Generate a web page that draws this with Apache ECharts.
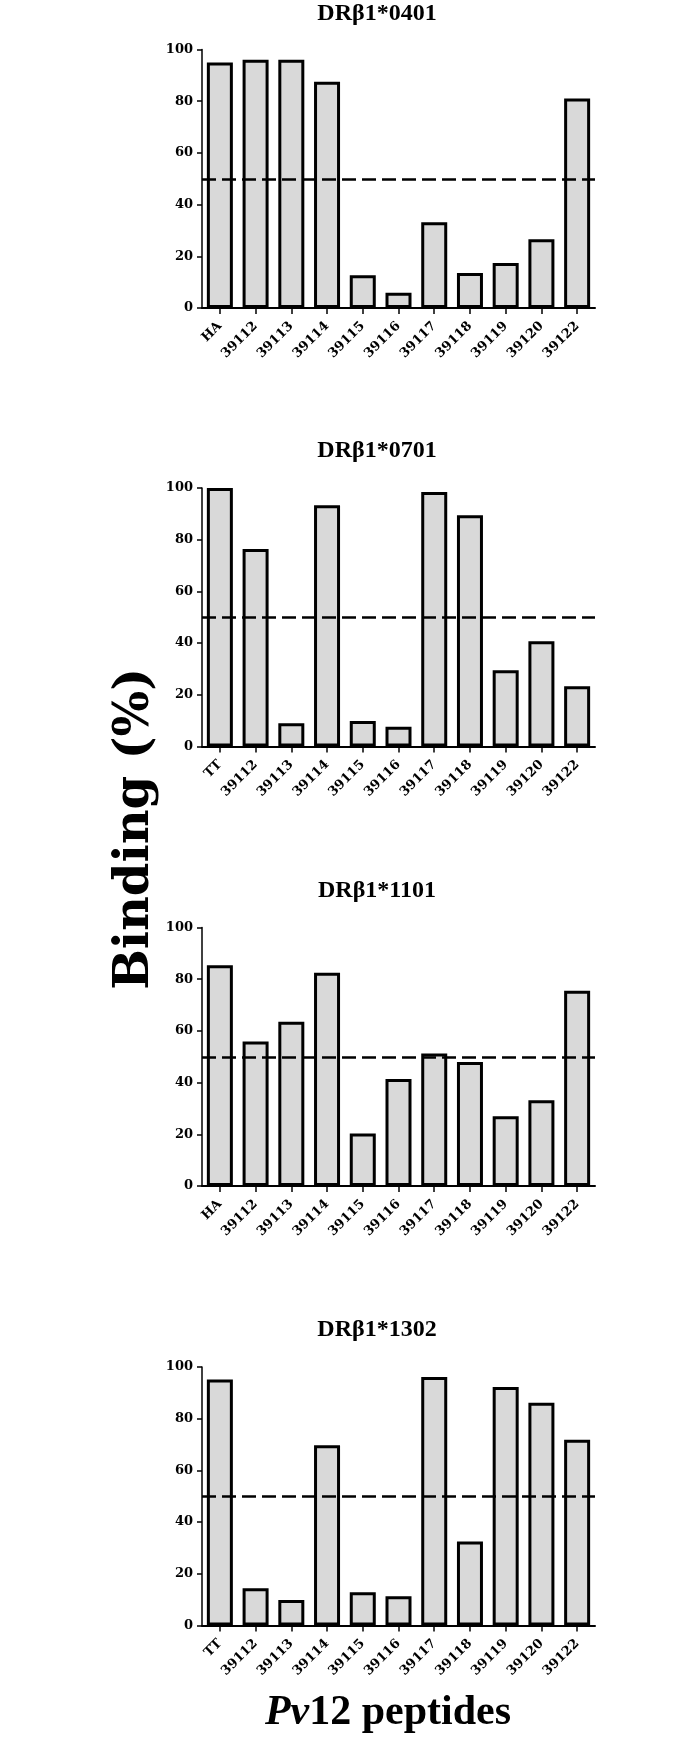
<!DOCTYPE html>
<html>
<head>
<meta charset="utf-8">
<style>
  html, body { margin: 0; padding: 0; background: #ffffff; }
  #chart { width: 700px; height: 1746px; }
</style>
<script src="https://cdn.jsdelivr.net/npm/echarts@6/dist/echarts.min.js"></script>
</head>
<body>
<div id="chart"></div>
<script>
// ---- Data ----
const panelTitles = ['DRβ1*0401', 'DRβ1*0701', 'DRβ1*1101', 'DRβ1*1302'];
const catsHA = ['HA', '39112', '39113', '39114', '39115', '39116', '39117', '39118', '39119', '39120', '39122'];
const catsTT = ['TT', '39112', '39113', '39114', '39115', '39116', '39117', '39118', '39119', '39120', '39122'];
const v0401 = [95, 96, 96, 87.5, 12.7, 5.9, 33.2, 13.5, 17.4, 26.6, 81];
const v0701 = [100, 76.4, 9, 93.3, 9.9, 7.6, 98.5, 89.5, 29.5, 40.7, 23.3];
const v1101 = [85.4, 55.9, 63.5, 82.5, 20.3, 41.4, 51.3, 48, 27, 33.2, 75.5];
const v1302 = [95.2, 14.4, 9.9, 69.7, 12.9, 11.3, 96.1, 32.5, 92.3, 86.2, 71.9];
const threshold = 50;
const yTicks = { min: 0, max: 100, interval: 20 };
const yAxisTitle = 'Binding (%)';
const xAxisTitleItalic = 'Pv';
const xAxisTitleRest = '12 peptides';

const panelCats = [catsHA, catsTT, catsHA, catsTT];
const panelVals = [v0401, v0701, v1101, v1302];

// ---- Layout ----
const gridTops = [49.5, 488, 927.5, 1367];
const gridHeight = 258.5;
const gridLeft = 202;
const gridWidth = 393;
const titleY = [13.5, 450.5, 890.5, 1329.5];

const chart = echarts.init(document.getElementById('chart'), null, { renderer: 'canvas' });

const grids = [], xAxes = [], yAxes = [], series = [], titles = [];
const tickFont = { fontFamily: 'DejaVu Serif', fontWeight: 'bold', fontSize: 13, color: '#000' };

for (let i = 0; i < 4; i++) {
  grids.push({ left: gridLeft, top: gridTops[i], width: gridWidth, height: gridHeight, containLabel: false });
  xAxes.push({
    type: 'category', gridIndex: i, data: panelCats[i], boundaryGap: true,
    axisLine: { show: true, lineStyle: { color: '#000', width: 2 } },
    axisTick: { show: true, alignWithLabel: true, length: 6, lineStyle: { color: '#000', width: 1.5 } },
    axisLabel: Object.assign({ rotate: 45, margin: 16, interval: 0 }, tickFont),
    splitLine: { show: false }
  });
  yAxes.push({
    type: 'value', gridIndex: i, min: yTicks.min, max: yTicks.max, interval: yTicks.interval,
    axisLine: { show: true, lineStyle: { color: '#000', width: 1.5 } },
    axisTick: { show: true, length: 5, lineStyle: { color: '#000', width: 1.5 } },
    axisLabel: Object.assign({ margin: 9 }, tickFont),
    splitLine: { show: false }
  });
  series.push({
    type: 'bar', xAxisIndex: i, yAxisIndex: i, data: panelVals[i],
    barWidth: 26,
    itemStyle: { color: '#d9d9d9', borderColor: '#000', borderWidth: 3 },
    emphasis: { disabled: true },
    markLine: {
      silent: true, symbol: 'none', animation: false,
      label: { show: false },
      lineStyle: { color: '#000', width: 2.5, type: [14, 6] },
      data: [{ yAxis: threshold }],
      z: 10
    },
    animation: false
  });
  titles.push({ text: panelTitles[i], left: 377, top: titleY[i] });
}

const option = {
  backgroundColor: '#ffffff',
  animation: false,
  grid: grids,
  xAxis: xAxes,
  yAxis: yAxes,
  series: series,
  graphic: [
    ...titles.map(t => ({
      type: 'text', x: t.left, y: t.top,
      style: {
        text: t.text, textAlign: 'center', textVerticalAlign: 'middle',
        font: 'bold 24px "Liberation Serif"', fill: '#000'
      }
    })),
    {
      type: 'text', x: 136, y: 829, rotation: Math.PI / 2,
      style: {
        text: yAxisTitle, textAlign: 'center', textVerticalAlign: 'middle',
        font: 'bold 48px "DejaVu Serif"', fill: '#000'
      }
    },
    {
      type: 'text', x: 388, y: 1713,
      style: {
        text: '{i|' + xAxisTitleItalic + '}{n|' + xAxisTitleRest + '}',
        textAlign: 'center', textVerticalAlign: 'middle',
        fill: '#000',
        rich: {
          i: { fontFamily: 'Liberation Serif', fontWeight: 'bold', fontStyle: 'italic', fontSize: 42, fill: '#000' },
          n: { fontFamily: 'Liberation Serif', fontWeight: 'bold', fontSize: 42, fill: '#000' }
        }
      }
    }
  ]
};

chart.setOption(option);
</script>
</body>
</html>
